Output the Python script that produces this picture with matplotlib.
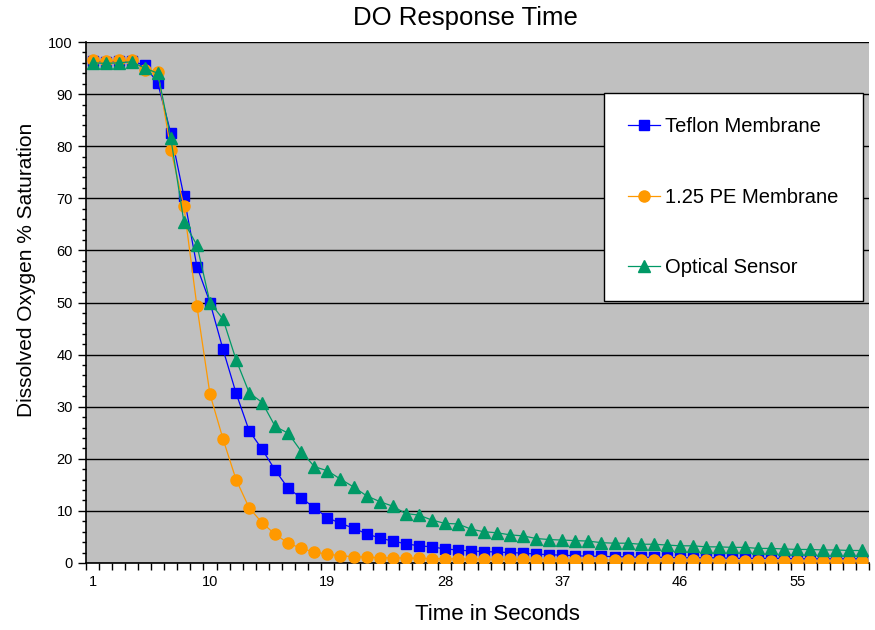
import matplotlib
matplotlib.use("Agg")
import matplotlib.pyplot as plt
from matplotlib.ticker import MultipleLocator, FixedLocator
import numpy as np

seconds = list(range(1, 61))
teflon = [96.3, 96.2, 96.3, 96.4, 95.5, 92.1, 82.5, 70.4, 56.9, 50.0,
          41.0, 32.6, 25.4, 21.8, 17.8, 14.3, 12.5, 10.6, 8.7, 7.6,
          6.7, 5.6, 4.8, 4.2, 3.7, 3.3, 3.1, 2.7, 2.5, 2.3,
          2.2, 2.1, 2.0, 1.9, 1.7, 1.6, 1.5, 1.4, 1.3, 1.3,
          1.2, 1.2, 1.1, 1.1, 1.1, 1.0, 1.0, 1.0, 1.0, 0.9,
          0.9, 0.9, 0.9, 0.9, 0.8, 0.8, 0.8, 0.8, 0.8, 0.8]
pe_membrane = [96.5, 96.4, 96.5, 96.5, 94.6, 94.3, 79.3, 68.5, 49.3, 32.4,
               23.8, 16.0, 10.6, 7.7, 5.5, 3.8, 2.8, 2.1, 1.7, 1.4,
               1.2, 1.15, 1.0, 1.0, 0.95, 0.9, 0.85, 0.8, 0.8, 0.75,
               0.75, 0.7, 0.7, 0.7, 0.65, 0.65, 0.6, 0.6, 0.6, 0.6,
               0.55, 0.55, 0.55, 0.5, 0.5, 0.5, 0.5, 0.5, 0.45, 0.45,
               0.45, 0.45, 0.45, 0.4, 0.4, 0.4, 0.4, 0.4, 0.4, 0.4]
optical = [96.0, 95.9, 96.0, 96.2, 95.0, 94.0, 81.5, 65.5, 61.0, 50.0,
           46.8, 39.0, 32.7, 30.8, 26.2, 24.9, 21.4, 18.5, 17.7, 16.1,
           14.6, 12.9, 11.8, 10.9, 9.5, 9.2, 8.25, 7.6, 7.5, 6.5,
           6.0, 5.8, 5.4, 5.2, 4.7, 4.5, 4.4, 4.3, 4.2, 3.9,
           3.8, 3.8, 3.6, 3.6, 3.45, 3.3, 3.3, 3.1, 3.1, 3.0,
           3.0, 2.8, 2.8, 2.7, 2.6, 2.6, 2.5, 2.5, 2.4, 2.4]
x_tick_labels = [1, 10, 19, 28, 37, 46, 55]

plt.rcParams['font.family'] = ['Liberation Sans', 'DejaVu Sans']

fig = plt.figure(figsize=(8.75, 6.3), dpi=100)
ax = fig.add_axes([86/875, 67/630, 783/875, 521/630])
ax.set_facecolor('#C0C0C0')

ax.plot(seconds, teflon, color='#0000FF', lw=0.9, marker='s', ms=7,
        mec='#0000FF', mfc='#0000FF', label='Teflon Membrane', zorder=3)
ax.plot(seconds, pe_membrane, color='#FF9900', lw=0.9, marker='o', ms=8,
        mec='#FF9900', mfc='#FF9900', label='1.25 PE Membrane', zorder=3)
ax.plot(seconds, optical, color='#009966', lw=0.9, marker='^', ms=9,
        mec='#009966', mfc='#009966', label='Optical Sensor', zorder=3)

ax.set_xlim(0.5, 60.5)
ax.set_ylim(0, 100)
ax.yaxis.set_major_locator(MultipleLocator(10))
ax.yaxis.set_minor_locator(MultipleLocator(2))
ax.grid(axis='y', which='major', color='black', lw=1.0, zorder=1)
ax.set_axisbelow(True)

ax.xaxis.set_major_locator(FixedLocator(x_tick_labels))
ax.set_xticklabels([str(v) for v in x_tick_labels])
ax.xaxis.set_minor_locator(FixedLocator(np.arange(0.5, 61, 1)))
ax.tick_params(axis='x', which='major', length=0, pad=9, labelsize=10.5)
ax.tick_params(axis='x', which='minor', length=5, direction='out', width=1)
ax.tick_params(axis='y', which='major', length=6, direction='out', width=1, labelsize=10.5)
ax.tick_params(axis='y', which='minor', length=3, direction='out', width=1)

for s in ['top', 'right']:
    ax.spines[s].set_visible(False)
for s in ['left', 'bottom']:
    ax.spines[s].set_linewidth(1.2)

fig.text(465/875, 1 - 18/630, 'DO Response Time', fontsize=18.5,
         ha='center', va='center')
fig.text(27/875, 1 - 270/630, 'Dissolved Oxygen % Saturation', fontsize=15,
         ha='center', va='center', rotation=90)
fig.text(497/875, 1 - 615/630, 'Time in Seconds', fontsize=16,
         ha='center', va='center')

leg = ax.legend(loc='upper left', bbox_to_anchor=(0.6616, 0.902), fontsize=14.5,
                frameon=True, fancybox=False, edgecolor='black', framealpha=1,
                labelspacing=2.55, borderpad=1.2, handlelength=1.6,
                handletextpad=0.25, borderaxespad=0)
leg.get_frame().set_linewidth(1.0)

fig.savefig('out.png', dpi=100)
